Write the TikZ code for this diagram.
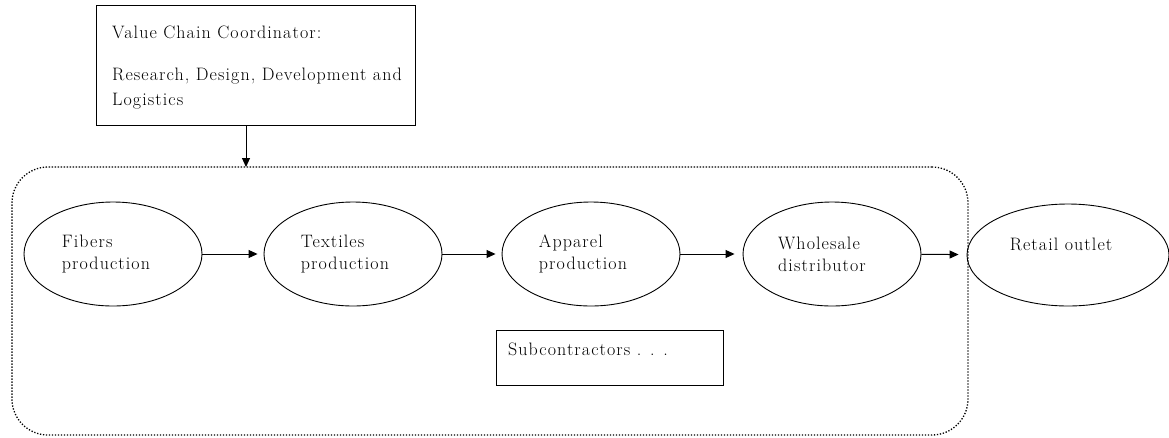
\documentclass[tikz,border=0pt]{standalone}
\usepackage{fontspec}
\setmainfont{Latin Modern Roman}[LetterSpace=6]
\usetikzlibrary{shapes.geometric,arrows.meta}
\begin{document}
\begin{tikzpicture}[x=1pt,y=-1pt,
  every node/.style={font=\fontsize{18}{22}\selectfont},
  stage/.style={ellipse,draw,line width=0.9pt,minimum width=178,minimum height=104,inner sep=0pt,align=left},
  plainbox/.style={rectangle,draw,line width=0.9pt,align=left,anchor=north west,inner sep=0pt},
  flow/.style={line width=1pt,-{Triangle[length=9,width=8]}},
  dotgroup/.style={draw,line width=1.3pt,dash pattern=on 1.3pt off 1.7pt,rounded corners=36,minimum width=956,minimum height=268,inner sep=0pt}
]
\useasboundingbox (0,0) rectangle (1169,437);
\node[dotgroup] (group) at (490,301) {};
\node[plainbox,minimum width=319,minimum height=120] (coord) at (96,5) {};
\node[anchor=north west,align=left,inner sep=0pt,font=\fontsize{18}{25}\selectfont] (coordtxt) at (112,26) {Value Chain Coordinator:\\[17pt]Research, Design, Development and\\Logistics};
\node[stage] (fib) at (113,254) {Fibers\\production\hspace*{14pt}};
\node[stage] (tex) at (353,254) {Textiles\\production\hspace*{16pt}};
\node[stage] (app) at (591,254) {Apparel\\production\hspace*{16pt}};
\node[stage] (who) at (832,254) {Wholesale\\distributor\hspace*{20pt}};
\node[stage,minimum width=202,minimum height=102] (ret) at (1068,255) {Retail outlet\hspace*{14pt}\\\mbox{}};
\node[plainbox,minimum width=227,minimum height=55] (sub) at (496,330) {};
\node[anchor=west,inner sep=0pt] (subtxt) at (508,349) {Subcontractors . . .};
\draw[flow] (coord.south -| 246,0) -- (246,167);
\draw[flow,shorten >=6pt] (fib) -- (tex);
\draw[flow,shorten >=6pt] (tex) -- (app);
\draw[flow,shorten >=8pt] (app) -- (who);
\draw[flow,shorten >=8pt] (who) -- (ret);
\end{tikzpicture}
\end{document}
